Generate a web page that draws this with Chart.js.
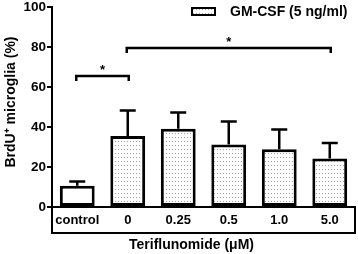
<!DOCTYPE html>
<html><head><meta charset="utf-8">
<script src="https://cdn.jsdelivr.net/npm/chart.js@4"></script>
<style>html,body{margin:0;padding:0;background:#fff}#w{width:358px;height:254px}</style>
</head><body><div id="w"><canvas id="c"></canvas></div>
<script>
const categories = ['control', '0', '0.25', '0.5', '1.0', '5.0'];
const meanValues = [10.6, 35.5, 39.2, 31.3, 28.9, 24.2];
const errorTops = [12.8, 48.3, 47.3, 42.8, 38.8, 32.0];
const yTicks = [0, 20, 40, 60, 80, 100];
// significance brackets: [fromIndex, toIndex, level]
const bracketFrom = [0, 1];
const bracketTo = [1, 5];
const bracketLevel = [65.5, 79.5];
const bracketLabel = ['*', '*'];
const seriesLabel = 'GM-CSF (5 ng/ml)';
const xTitle = 'Teriflunomide (\u03bcM)';
const yTitle = 'BrdU\u207a microglia (%)';

const FONT = '"Liberation Sans", Arial, sans-serif';

function makePattern() {
  const p = document.createElement('canvas');
  p.width = 3; p.height = 4;
  const g = p.getContext('2d');
  g.fillStyle = '#fff'; g.fillRect(0, 0, 3, 4);
  g.fillStyle = '#a0a0a0'; g.fillRect(1, 1, 1, 1);
  return document.getElementById('c').getContext('2d').createPattern(p, 'repeat');
}
const pat = makePattern();
const fills = categories.map((c, i) => i === 0 ? '#ffffff' : pat);

const extras = {
  id: 'extras',
  afterDatasetsDraw(chart) {
    const ctx = chart.ctx, x = chart.scales.x, y = chart.scales.y, ca = chart.chartArea;
    ctx.save();
    ctx.strokeStyle = '#000';
    ctx.lineWidth = 2.5;
    ctx.lineCap = 'butt';
    // error bars
    const meta = chart.getDatasetMeta(0);
    meta.data.forEach((bar, i) => {
      const cx = bar.x;
      const yt = y.getPixelForValue(meanValues[i]);
      const ye = y.getPixelForValue(errorTops[i]);
      ctx.beginPath();
      ctx.moveTo(cx, yt); ctx.lineTo(cx, ye);
      ctx.moveTo(cx - 8, ye); ctx.lineTo(cx + 8, ye);
      ctx.stroke();
    });
    // x label box
    const boxBottom = 233;
    ctx.lineWidth = 2;
    ctx.beginPath();
    ctx.moveTo(ca.left, ca.bottom);
    ctx.lineTo(ca.left, boxBottom);
    ctx.lineTo(ca.right, boxBottom);
    ctx.lineTo(ca.right, ca.bottom);
    ctx.lineTo(ca.left, ca.bottom);
    ctx.stroke();
    // brackets
    ctx.lineWidth = 2.5;
    ctx.fillStyle = '#000';
    bracketFrom.forEach((f, k) => {
      const x1 = x.getPixelForValue(f) - 1, x2 = x.getPixelForValue(bracketTo[k]) + 1;
      const yy = y.getPixelForValue(bracketLevel[k]);
      ctx.beginPath();
      ctx.moveTo(x1, yy + 5); ctx.lineTo(x1, yy); ctx.lineTo(x2, yy); ctx.lineTo(x2, yy + 5);
      ctx.stroke();
      ctx.font = 'bold 13px ' + FONT;
      ctx.textAlign = 'center'; ctx.textBaseline = 'middle';
      ctx.fillText(bracketLabel[k], (x1 + x2) / 2, yy - 6);
    });
    // legend
    const lx = 192, ly = 8;
    ctx.fillStyle = pat;
    ctx.fillRect(lx, ly, 23, 7);
    ctx.lineWidth = 2;
    ctx.strokeRect(lx, ly, 23, 7);
    ctx.fillStyle = '#000';
    ctx.font = 'bold 14px ' + FONT;
    ctx.textAlign = 'left'; ctx.textBaseline = 'middle';
    ctx.fillText(seriesLabel, 230, 12);
    // axis titles
    ctx.textAlign = 'center';
    ctx.fillText(xTitle, 191.5, 245);
    ctx.translate(11, 102);
    ctx.rotate(-Math.PI / 2);
    ctx.fillText(yTitle, 0, 0);
    ctx.restore();
  }
};

new Chart(document.getElementById('c'), {
  type: 'bar',
  data: {
    labels: categories,
    datasets: [{
      label: seriesLabel,
      data: meanValues,
      backgroundColor: fills,
      borderColor: '#000',
      borderWidth: 3,
      borderSkipped: false,
      categoryPercentage: 1,
      barPercentage: 0.69
    }]
  },
  options: {
    responsive: true,
    maintainAspectRatio: false,
    animation: false,
    devicePixelRatio: 1,
    layout: { padding: { left: 0, right: 3, top: 0, bottom: 0 } },
    plugins: { legend: { display: false }, tooltip: { enabled: false } },
    scales: {
      x: {
        grid: { display: false, drawTicks: false, tickLength: 0 },
        border: { display: false },
        ticks: { color: '#000', font: { family: FONT, size: 13, weight: 'bold' }, padding: 6, maxRotation: 0, autoSkip: false },
        afterFit(s) { s.height = 47; }
      },
      y: {
        min: 0, max: 100,
        afterBuildTicks(s) { s.ticks = yTicks.map(v => ({ value: v })); },
        grid: { drawOnChartArea: false, color: '#000', lineWidth: 2, tickLength: 5 },
        border: { color: '#000', width: 2 },
        ticks: { color: '#000', font: { family: FONT, size: 13.5, weight: 'bold', lineHeight: 0.9 }, padding: 1 },
        afterFit(s) { s.width = 52; }
      }
    }
  },
  plugins: [extras]
});
</script>
</body></html>
